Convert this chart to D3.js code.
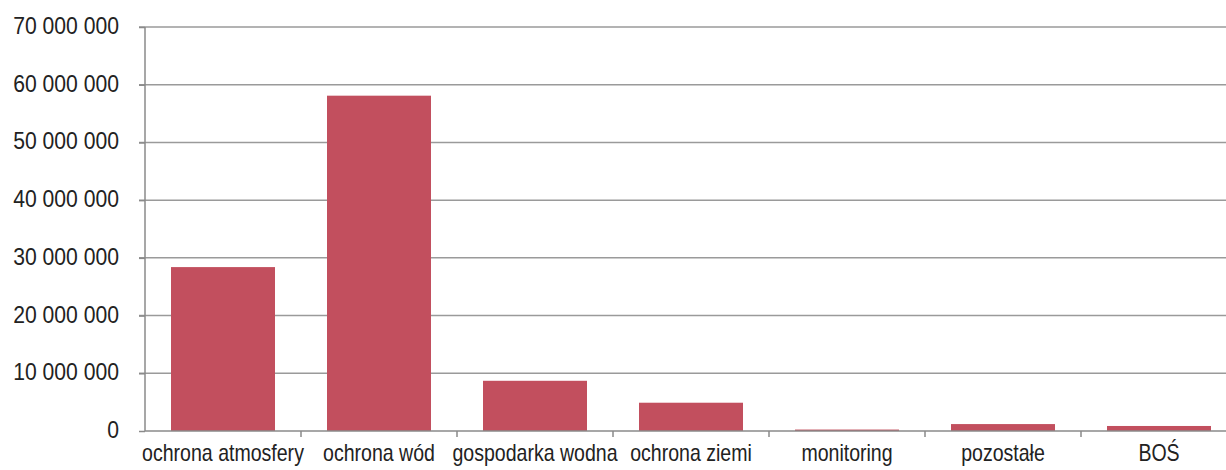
<!DOCTYPE html>
<html><head><meta charset="utf-8">
<script src="https://cdn.jsdelivr.net/npm/d3@7"></script>
<style>body{margin:0;background:#fff}svg{display:block}</style>
</head><body>
<svg id="c" width="1226" height="470"></svg>
<script>
const categories = ["ochrona atmosfery","ochrona wód","gospodarka wodna","ochrona ziemi","monitoring","pozostałe","BOŚ"];
const values = [28400000, 58100000, 8700000, 4900000, 250000, 1200000, 870000];
const yTicks = [0,10000000,20000000,30000000,40000000,50000000,60000000,70000000];

(function(){
const svg = d3.select("#c");
const pLeft = 145, step = 156, pTop = 27, pBottom = 431;
const x = d3.scaleBand().domain(categories).range([pLeft, pLeft + step*categories.length]).paddingInner(1/3).paddingOuter(1/6);
const y = d3.scaleLinear().domain([0,70000000]).range([pBottom, pTop]);
const fmt = v => d3.format(",")(v).replace(/,/g," ");
const font = "'Liberation Sans', Arial, sans-serif";

// gridlines
svg.append("g").selectAll("line").data(yTicks.filter(d=>d>0)).join("line")
  .attr("x1", pLeft-6).attr("x2", 1240).attr("y1", d=>y(d)).attr("y2", d=>y(d))
  .attr("stroke", "#9a9a9a").attr("stroke-width", 1.5);

// bars
svg.append("g").selectAll("rect").data(values).join("rect")
  .attr("x", (d,i)=>x(categories[i])).attr("width", x.bandwidth())
  .attr("y", d=>y(d)).attr("height", d=>pBottom - y(d))
  .attr("fill", "#c24f5e");

// y axis
const ya = svg.append("g").attr("transform", `translate(${pLeft},0)`)
  .call(d3.axisLeft(y).tickValues(yTicks).tickFormat(fmt).tickSize(6).tickPadding(20));
ya.select(".domain").attr("stroke","#8a8a8a").attr("stroke-width",1.5).attr("d", `M0,${pTop}V${pBottom}`);
ya.selectAll(".tick line").attr("stroke","#8a8a8a").attr("stroke-width",1.5);
ya.selectAll(".tick text").attr("font-family", font).attr("font-size", 23).attr("fill","#222")
  .attr("dy", "0.28em")
  .attr("transform", function(){ const xx = +d3.select(this).attr("x"); return `translate(${xx*(1-0.92)},0) scale(0.92,1)`; });

// x axis
const xa = svg.append("g").attr("transform", `translate(0,${pBottom})`);
xa.append("line").attr("x1", pLeft).attr("x2", 1240).attr("y1",0).attr("y2",0).attr("stroke","#8a8a8a").attr("stroke-width",1.5);
xa.selectAll(".tk").data(d3.range(1, categories.length)).join("line")
  .attr("x1", i=>pLeft + i*x.step()).attr("x2", i=>pLeft + i*x.step())
  .attr("y1",0).attr("y2",6).attr("stroke","#8a8a8a").attr("stroke-width",1.5);
xa.selectAll("text").data(categories).join("text")
  .attr("transform", d=>`translate(${x(d)+x.bandwidth()/2},30) scale(0.85,1)`)
  .attr("text-anchor","middle").attr("font-family", font).attr("font-size", 23).attr("fill","#222")
  .text(d=>d);
})();
</script>
</body></html>
